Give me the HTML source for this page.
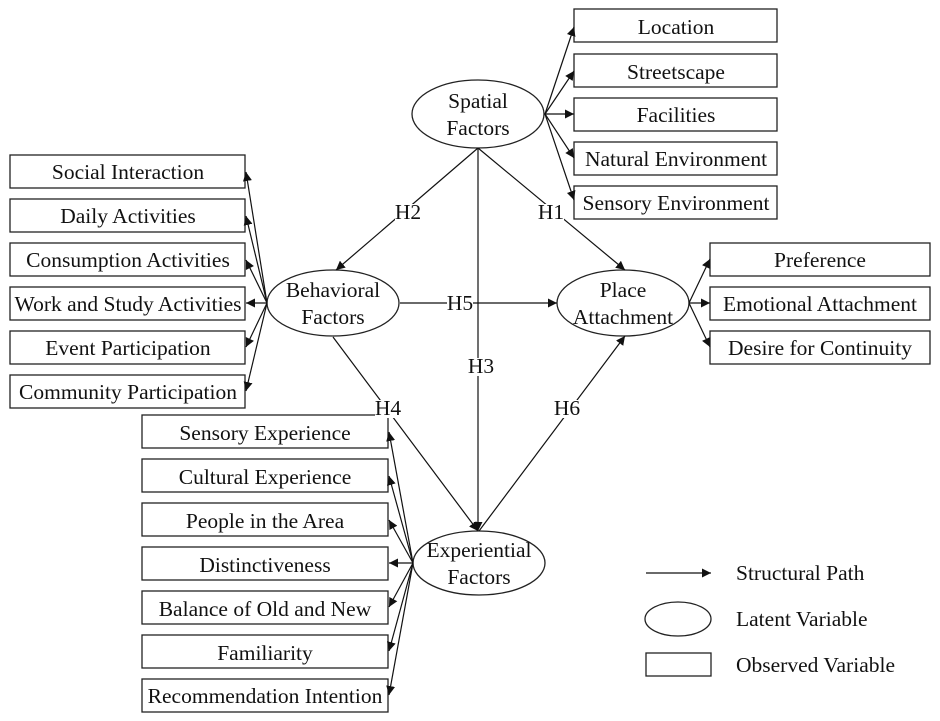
<!DOCTYPE html>
<html><head><style>body{margin:0;background:#fff}svg{display:block}text{font-family:"Liberation Serif",serif;font-size:21.5px;fill:#111}</style></head><body>
<svg width="940" height="721" viewBox="0 0 940 721">
<defs><marker id="a" viewBox="0 0 10 10" refX="10" refY="5" markerWidth="9" markerHeight="9" orient="auto" markerUnits="userSpaceOnUse"><path d="M0,0L10,5L0,10z" fill="#111"/></marker></defs>
<g stroke="#222" stroke-width="1.3" fill="none">
<rect x="574" y="9" width="203" height="33"/><rect x="574" y="54" width="203" height="33"/><rect x="574" y="98" width="203" height="33"/><rect x="574" y="142" width="203" height="33"/><rect x="574" y="186" width="203" height="33"/>
<rect x="10" y="155" width="235" height="33"/><rect x="10" y="199" width="235" height="33"/><rect x="10" y="243" width="235" height="33"/><rect x="10" y="287" width="235" height="33"/><rect x="10" y="331" width="235" height="33"/><rect x="10" y="375" width="235" height="33"/>
<rect x="710" y="243" width="220" height="33"/><rect x="710" y="287" width="220" height="33"/><rect x="710" y="331" width="220" height="33"/>
<rect x="142" y="415" width="246" height="33"/><rect x="142" y="459" width="246" height="33"/><rect x="142" y="503" width="246" height="33"/><rect x="142" y="547" width="246" height="33"/><rect x="142" y="591" width="246" height="33"/><rect x="142" y="635" width="246" height="33"/><rect x="142" y="679" width="246" height="33"/>
<ellipse cx="478" cy="114" rx="66" ry="34"/><ellipse cx="333" cy="303" rx="66" ry="33"/><ellipse cx="623" cy="303" rx="66" ry="33"/><ellipse cx="479" cy="563" rx="66" ry="32"/>
<ellipse cx="678" cy="619" rx="33" ry="17"/><rect x="646" y="653" width="65" height="23"/>
</g>
<g stroke="#111" stroke-width="1.2" marker-end="url(#a)">
<line x1="545" y1="114" x2="574" y2="27"/><line x1="545" y1="114" x2="574" y2="71"/><line x1="545" y1="114" x2="574" y2="114"/><line x1="545" y1="114" x2="574" y2="158"/><line x1="545" y1="114" x2="574" y2="200"/>
<line x1="267" y1="303" x2="246" y2="172"/><line x1="267" y1="303" x2="246" y2="216"/><line x1="267" y1="303" x2="246" y2="260"/><line x1="267" y1="303" x2="246" y2="303"/><line x1="267" y1="303" x2="246" y2="347"/><line x1="267" y1="303" x2="246" y2="391"/>
<line x1="689" y1="303" x2="710" y2="259"/><line x1="689" y1="303" x2="710" y2="303"/><line x1="689" y1="303" x2="710" y2="347"/>
<line x1="413" y1="563" x2="389" y2="432"/><line x1="413" y1="563" x2="389" y2="476"/><line x1="413" y1="563" x2="389" y2="520"/><line x1="413" y1="563" x2="389" y2="563"/><line x1="413" y1="563" x2="389" y2="607"/><line x1="413" y1="563" x2="389" y2="651"/><line x1="413" y1="563" x2="389" y2="695"/>
<line x1="478" y1="148" x2="336" y2="270"/><line x1="478" y1="148" x2="625" y2="270"/><line x1="478" y1="148" x2="478" y2="531"/><line x1="400" y1="303" x2="557" y2="303"/><line x1="333" y1="337" x2="478" y2="531"/><line x1="479" y1="531" x2="625" y2="336"/>
<line x1="646" y1="573" x2="711" y2="573"/>
</g>
<g fill="#fff"><rect x="395" y="204" width="26" height="18"/><rect x="538" y="204" width="26" height="18"/><rect x="447" y="296" width="26" height="16"/><rect x="468" y="358" width="26" height="18"/><rect x="375" y="400" width="26" height="18"/><rect x="554" y="400" width="26" height="18"/></g>
<g text-anchor="middle">
<text x="676" y="34">Location</text><text x="676" y="79">Streetscape</text><text x="676" y="122">Facilities</text><text x="676" y="166">Natural Environment</text><text x="676" y="210">Sensory Environment</text>
<text x="128" y="179">Social Interaction</text><text x="128" y="223">Daily Activities</text><text x="128" y="267">Consumption Activities</text><text x="128" y="311">Work and Study Activities</text><text x="128" y="355">Event Participation</text><text x="128" y="399">Community Participation</text>
<text x="820" y="267">Preference</text><text x="820" y="311">Emotional Attachment</text><text x="820" y="355">Desire for Continuity</text>
<text x="265" y="440">Sensory Experience</text><text x="265" y="484">Cultural Experience</text><text x="265" y="528">People in the Area</text><text x="265" y="572">Distinctiveness</text><text x="265" y="616">Balance of Old and New</text><text x="265" y="660">Familiarity</text><text x="265" y="703">Recommendation Intention</text>
<text x="478" y="108">Spatial</text><text x="478" y="135">Factors</text>
<text x="333" y="297">Behavioral</text><text x="333" y="324">Factors</text>
<text x="623" y="297">Place</text><text x="623" y="324">Attachment</text>
<text x="479" y="557">Experiential</text><text x="479" y="584">Factors</text>
<text x="408" y="219">H2</text><text x="551" y="219">H1</text><text x="460" y="310">H5</text><text x="481" y="373">H3</text><text x="388" y="415">H4</text><text x="567" y="415">H6</text>
</g>
<text x="736" y="580">Structural Path</text><text x="736" y="626">Latent Variable</text><text x="736" y="672">Observed Variable</text>
</svg>
</body></html>
